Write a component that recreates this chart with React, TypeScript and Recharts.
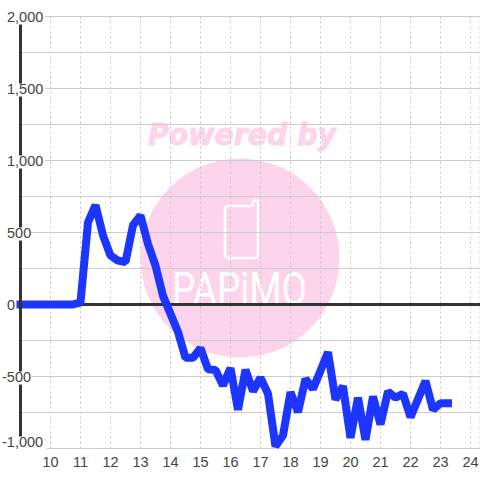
import { CartesianGrid, Line, LineChart, ReferenceLine, XAxis, YAxis } from "recharts"

const hours = [
    9, 9.25, 9.5, 9.75, 10, 10.25, 10.5, 10.75,
    11, 11.25, 11.5, 11.75, 12, 12.25, 12.5, 12.75,
    13, 13.25, 13.5, 13.75, 14, 14.25, 14.5, 14.75,
    15, 15.25, 15.5, 15.75, 16, 16.25, 16.5, 16.75,
    17, 17.25, 17.5, 17.75, 18, 18.25, 18.5, 18.75,
    19, 19.25, 19.5, 19.75, 20, 20.25, 20.5, 20.75,
    21, 21.25, 21.5, 21.75, 22, 22.25, 22.5, 22.75,
    23, 23.25,
]

const values = [
    0, 0, 0, 0, 0, 0, 0, 0,
    15, 570, 690, 480, 340, 305, 295, 550,
    618, 420, 270, 60, -65, -190, -370, -370,
    -303, -450, -455, -562, -442, -731, -453, -602,
    -509, -620, -985, -910, -609, -748, -516, -586,
    -460, -331, -660, -567, -926, -648, -940, -639,
    -833, -604, -648, -620, -782, -657, -532, -731,
    -685, -685,
]

const xTicks = [10, 11, 12, 13, 14, 15, 16, 17, 18, 19, 20, 21, 22, 23, 24]
const yTicks = [-1000, -750, -500, -250, 0, 250, 500, 750, 1000, 1250, 1500, 1750, 2000]
const yLabels = [-1000, -500, 0, 500, 1000, 1500, 2000]

const data = hours.map((hour, i) => ({ hour, value: values[i] }))

const textColor = "#444444"
const pink = "#fcd5ec"

// etiqueta del eje Y con fondo blanco, tapa el eje y la grilla
function YTick({ y, payload }: any) {
    const value = payload.value
    if (!yLabels.includes(value)) return null
    const label = value.toLocaleString("en-US")
    const cy = value === -1000 ? y - 7 : y
    return (
        <g>
            <rect x={0} y={cy - 5} width={value < 0 ? label.length * 7.4 + 2 : label.length * 7.6 + 7} height={13} fill="#ffffff" />
            <text x={value < 0 ? 2 : 7} y={cy + 5.5} fontSize={14.5} fill={textColor} fontFamily="Liberation Sans">
                {label}
            </text>
        </g>
    )
}

function Watermark() {
    return (
        <svg width={480} height={480} style={{ position: "absolute", left: 0, top: 0 }}>
            <text x={242} y={145} textAnchor="middle" fontSize={31} fontWeight="bold" fontStyle="italic" fontFamily="DejaVu Sans" textLength={188} lengthAdjust="spacingAndGlyphs" fill={pink} stroke={pink} strokeWidth={1}>
                Powered by
            </text>
            <circle cx={240} cy={258} r={99.5} fill={pink} />
            <path d="M229 206 H250 Q253 206 253 203 Q254 200 256 200 Q258 200 258 203 V254 Q258 258 254 258 H229 Q225 258 225 254 V210 Q225 206 229 206 Z" fill="none" stroke="#ffffff" strokeWidth={2.5} />
            <text x={172} y={305} fontSize={46} fontFamily="Roboto" fontWeight={400} textLength={135} lengthAdjust="spacingAndGlyphs" fill="#ffffff">
                PAPiMO
            </text>
        </svg>
    )
}

export default function App() {
    return (
        <div style={{ position: "absolute", left: 0, top: 0, width: 480, height: 480, background: "#ffffff" }}>
            <Watermark />
            <div style={{ position: "absolute", left: 0, top: 0 }}>
                <LineChart width={480} height={480} data={data} margin={{ top: 16.5, right: 0, bottom: 0, left: 0 }}>
                    <CartesianGrid horizontal={false} stroke="#c4c4c4" strokeDasharray="2 3" />
                    <CartesianGrid vertical={false} stroke="#cccccc" strokeWidth={1} />
                    <XAxis
                        dataKey="hour"
                        type="number"
                        domain={[9, 24.317]}
                        ticks={xTicks}
                        height={31.5}
                        axisLine={false}
                        tickLine={false}
                        interval={0}
                        tick={{ fontSize: 14.5, fill: textColor, fontFamily: "Liberation Sans" }}
                    />
                    <YAxis
                        type="number"
                        domain={[-1000, 2000]}
                        ticks={yTicks}
                        width={20.5}
                        interval={0}
                        axisLine={{ stroke: "#333333", strokeWidth: 3 }}
                        tickLine={false}
                        tick={<YTick />}
                    />
                    <ReferenceLine y={0} stroke="#333333" strokeWidth={3} />
                    <Line
                        dataKey="value"
                        type="linear"
                        stroke="#1c36ff"
                        strokeWidth={8}
                        strokeLinecap="square"
                        strokeLinejoin="bevel"
                        dot={false}
                        activeDot={false}
                        isAnimationActive={false}
                    />
                </LineChart>
            </div>
        </div>
    )
}
